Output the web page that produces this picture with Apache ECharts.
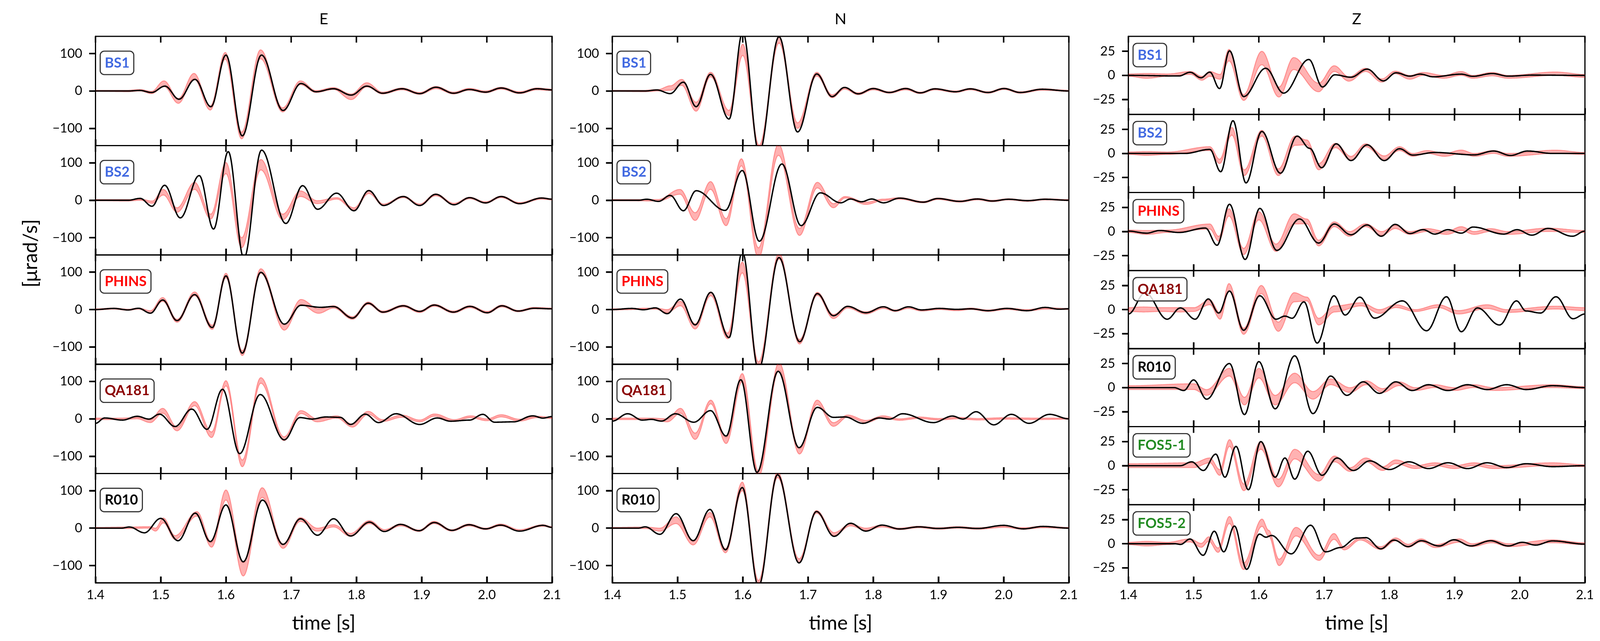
<!DOCTYPE html>
<html>
<head>
<meta charset="utf-8">
<script src="https://cdn.jsdelivr.net/npm/echarts@6/dist/echarts.min.js"></script>
<style>
html,body{margin:0;padding:0;background:#ffffff;overflow:hidden;}
#chart{width:100vw;height:100vh;}
</style>
</head>
<body>
<div id="chart"></div>
<script>
// ---------------- data (time [s], value [µrad/s]) ----------------
const timeTicks = [1.4, 1.5, 1.6, 1.7, 1.8, 1.9, 2.0, 2.1];
const ticksEN = [-100, 0, 100];
const ticksZ = [-25, 0, 25];
const components = ['E', 'N', 'Z'];
const stationsEN = ['BS1', 'BS2', 'PHINS', 'QA181', 'R010'];
const stationsZ = ['BS1', 'BS2', 'PHINS', 'QA181', 'R010', 'FOS5-1', 'FOS5-2'];

// black = observed trace [t, v]; red = synthetic band [t, low, high]
const E_BS1_black = [[1.40,0],[1.45,0],[1.468,1.5],[1.486,-4],[1.5065,13],[1.528,-22],[1.5525,31],[1.577,-42],[1.600,96],[1.625,-120],[1.6545,96],[1.6875,-52],[1.715,20],[1.738,-2],[1.765,6],[1.792,-11],[1.816,13],[1.840,-6],[1.870,6],[1.897,-7],[1.922,10],[1.949,-6],[1.973,4],[1.998,-3],[2.022,8],[2.050,-5],[2.077,6],[2.100,3]];
const E_BS1_red = [[1.40,-1,2],[1.45,-2,2],[1.468,0,4],[1.486,-7,-1],[1.505,12,27],[1.527,-33,-20],[1.551,32,47],[1.576,-51,-40],[1.599,85,103],[1.624,-128,-110],[1.653,86,110],[1.687,-56,-45],[1.714,17,27],[1.738,-4,1],[1.765,4,9],[1.792,-23,-8],[1.816,11,22],[1.840,-8,-3],[1.870,3,8],[1.897,-9,-4],[1.922,6,12],[1.949,-8,-3],[1.973,2,7],[1.998,-5,0],[2.022,5,10],[2.050,-7,-2],[2.077,3,8],[2.100,1,5]];

const E_BS2_black = [[1.40,0],[1.45,0],[1.4685,5],[1.4866,-16],[1.506,40],[1.530,-47],[1.559,66],[1.581,-77],[1.6035,130],[1.6275,-155],[1.6546,134],[1.6918,-62],[1.7175,39],[1.7405,-24],[1.7697,19],[1.7963,-28],[1.819,26],[1.8414,-14],[1.872,10],[1.897,-14],[1.9216,16],[1.9496,-12],[1.9735,7],[1.998,-7],[2.022,10],[2.050,-9],[2.084,6],[2.100,3]];
const E_BS2_red = [[1.40,-1,2],[1.45,-2,2],[1.469,0,3],[1.487,-8,-2],[1.504,14,29],[1.525,-32,-20],[1.552,29,48],[1.5767,-50,-37],[1.600,71,101],[1.624,-127,-100],[1.6535,81,109],[1.687,-52,-37],[1.714,10,25],[1.740,-9,-1],[1.770,3,7],[1.7963,-26,-20],[1.819,18,25],[1.8414,-14,-10],[1.872,7,11],[1.897,-14,-10],[1.9216,12,17],[1.9496,-12,-8],[1.9735,4,8],[1.998,-8,-4],[2.022,7,11],[2.050,-10,-6],[2.084,3,7],[2.100,1,4]];

const E_PHINS_black = [[1.40,0],[1.428,3],[1.450,-1],[1.466,3.4],[1.4843,-9.7],[1.503,25.6],[1.525,-29.5],[1.552,40],[1.579,-48],[1.600,90],[1.625,-116.5],[1.6534,99.4],[1.6895,-39],[1.715,11.4],[1.745,6],[1.765,8],[1.794,-22.7],[1.818,17],[1.8405,-6.8],[1.872,10],[1.897,-5],[1.9194,12],[1.9487,-6.8],[1.974,8.5],[2.0006,-8.5],[2.023,10],[2.048,-4],[2.0727,3.4],[2.100,2]];
const E_PHINS_red = [[1.40,-1,2],[1.428,1,4],[1.450,-2,1],[1.466,1,4],[1.4843,-9,-3],[1.503,22,32],[1.525,-34,-26],[1.552,37,47],[1.579,-53,-42],[1.600,85,97],[1.625,-123,-110],[1.6534,97,109],[1.6895,-55,-40],[1.715,13,27],[1.742,-10,2],[1.765,4,10],[1.794,-26,-19],[1.818,14,20],[1.8405,-9,-4],[1.872,7,12],[1.897,-8,-3],[1.9194,9,14],[1.9487,-9,-4],[1.974,5,10],[2.0006,-10,-5],[2.023,7,12],[2.048,-6,-2],[2.0727,2,6],[2.100,1,4]];

const E_QA181_black = [[1.40,-12],[1.414,2.3],[1.4415,-3.4],[1.464,6.8],[1.482,-0.6],[1.498,12.5],[1.522,-20.5],[1.5475,26],[1.571,-28],[1.5948,79],[1.621,-93],[1.6525,65],[1.6894,-56],[1.7134,3.4],[1.732,-0.6],[1.7527,5],[1.775,4],[1.791,-15],[1.8136,12.5],[1.834,-10],[1.8608,13.6],[1.897,-15],[1.924,2.3],[1.944,-6.3],[1.9735,-3.4],[1.9938,12],[2.0118,-9],[2.041,-8],[2.0704,8],[2.086,2],[2.100,6]];
const E_QA181_red = [[1.40,-2,2],[1.44,-2,2],[1.464,0,4],[1.484,-10,-2],[1.503,15,28],[1.525,-32,-22],[1.552,35,46],[1.578,-50,-35],[1.600,88,102],[1.625,-128,-110],[1.6534,95,110],[1.689,-58,-48],[1.715,14,22],[1.740,-8,0],[1.770,2,8],[1.794,-22,-14],[1.818,12,20],[1.840,-7,-2],[1.870,4,10],[1.897,-8,-3],[1.920,7,13],[1.950,-7,-2],[1.975,3,8],[2.000,-5,0],[2.022,5,11],[2.050,-6,-1],[2.077,3,7],[2.100,1,4]];

const E_R010_black = [[1.40,0],[1.44,0],[1.452,3],[1.475,-12.5],[1.500,26],[1.5265,-33.6],[1.553,40],[1.576,-36],[1.600,62],[1.6265,-90],[1.656,75],[1.6875,-43.4],[1.7143,25],[1.7404,-19],[1.765,25],[1.791,-21],[1.820,16],[1.8427,-9],[1.8675,10],[1.896,-7],[1.9194,15],[1.9465,-6],[1.9726,9],[1.998,-2],[2.021,8],[2.050,-8],[2.086,7.4],[2.100,2]];
const E_R010_red = [[1.40,-1,2],[1.45,-1,3],[1.4825,0,4],[1.492,-8,0],[1.504,14,27],[1.522,-30,-20],[1.5555,32,44],[1.578,-51,-38],[1.600,75,102],[1.6265,-128,-92],[1.6555,82,108],[1.6875,-54,-42],[1.714,18,28],[1.740,-8,0],[1.765,3,9],[1.791,-22,-14],[1.820,12,20],[1.843,-9,-4],[1.868,6,11],[1.896,-9,-5],[1.919,12,18],[1.946,-8,-4],[1.9726,6,11],[1.998,-4,0],[2.021,6,11],[2.050,-8,-4],[2.086,5,9],[2.100,1,4]];

const N_BS1_black = [[1.40,0],[1.45,0],[1.4685,2.7],[1.4888,-7],[1.509,23.6],[1.5285,-42],[1.5506,44.5],[1.579,-75],[1.600,158],[1.625,-165],[1.6556,145],[1.684,-109.5],[1.7134,45.6],[1.737,-15],[1.756,9.5],[1.777,-7.6],[1.800,6.5],[1.8247,-4],[1.850,6.5],[1.872,-5],[1.8946,5.7],[1.926,-2],[1.949,5.7],[1.976,-4],[2.0006,6.5],[2.0253,-4],[2.059,4.6],[2.100,0]];
const N_BS1_red = [[1.40,-1,2],[1.45,-2,2],[1.47,0,4],[1.489,2,14],[1.5065,15,31],[1.5285,-54,-30],[1.5506,38,50],[1.579,-66,-52],[1.600,95,125],[1.625,-160,-145],[1.6556,128,146],[1.684,-100,-85],[1.7134,40,50],[1.737,-18,-10],[1.756,5,10],[1.777,-10,-5],[1.800,3,8],[1.8247,-6,-2],[1.850,3,8],[1.872,-7,-3],[1.8946,3,7],[1.926,-4,0],[1.949,3,7],[1.976,-6,-2],[2.0006,4,8],[2.0253,-6,-2],[2.059,2,6],[2.100,-1,2]];

const N_BS2_black = [[1.40,0],[1.44,0],[1.4528,2.7],[1.4708,-3],[1.4888,13],[1.509,-28],[1.5285,25.5],[1.5731,-27],[1.5993,79.5],[1.6254,-109.5],[1.660,97],[1.6894,-67.7],[1.7188,19.8],[1.7503,-6.8],[1.7652,3.4],[1.782,-4],[1.7977,3.4],[1.8157,-6.8],[1.8405,5.7],[1.8766,-5],[1.8991,4.6],[1.9329,-3],[1.960,3.4],[1.9825,-2],[2.0073,2.7],[2.0366,-1],[2.0637,2.7],[2.100,0]];
const N_BS2_red = [[1.40,-1,2],[1.47,-2,2],[1.5037,16,29],[1.527,-54,-33],[1.5506,29,50],[1.5745,-68,-49],[1.598,92,111],[1.624,-155,-127],[1.6547,120,150],[1.687,-94,-75],[1.7143,33,48],[1.739,-20,-9],[1.757,6,10],[1.789,-11,-5],[1.815,-1,3],[1.8405,3,7],[1.8766,-7,-3],[1.8991,2,6],[1.9329,-5,-1],[1.960,1,5],[1.9825,-4,0],[2.0073,1,4],[2.0366,-3,0],[2.0637,1,4],[2.100,-1,2]];

const N_PHINS_black = [[1.40,0],[1.430,3],[1.448,-0.5],[1.466,4.5],[1.4843,-11],[1.5046,28],[1.527,-41],[1.551,46],[1.579,-75],[1.5993,155],[1.6241,-160],[1.6556,139],[1.6872,-86],[1.7143,42.6],[1.739,-16.5],[1.7608,8.5],[1.7887,-8.5],[1.8157,7.4],[1.8337,-3],[1.854,7.4],[1.8743,-1],[1.9014,3],[1.928,0.5],[1.950,2],[1.976,-3],[2.005,3],[2.036,-3],[2.0637,5.7],[2.085,1],[2.100,2]];
const N_PHINS_red = [[1.40,-1,2],[1.466,1,4],[1.4843,-8,0],[1.5046,10,22],[1.527,-52,-38],[1.551,37,47],[1.577,-78,-63],[1.5993,98,127],[1.6241,-160,-140],[1.6556,135,150],[1.687,-92,-80],[1.7143,38,46],[1.739,-24,-13],[1.7608,4,9],[1.7887,-12,-6],[1.8157,3,8],[1.8337,-5,-1],[1.854,3,7],[1.8743,-4,0],[1.9014,0,4],[1.928,-3,1],[1.950,0,4],[1.976,-5,-1],[2.005,0,4],[2.036,-4,0],[2.0637,1,5],[2.100,0,3]];

const N_QA181_black = [[1.40,-6],[1.4235,13.6],[1.446,-3.4],[1.460,-1.5],[1.4753,-6],[1.4966,13.6],[1.525,-9],[1.5506,22],[1.5745,-46],[1.597,104.5],[1.6218,-143],[1.6543,127],[1.6863,-77],[1.7143,30.7],[1.739,4],[1.757,5],[1.7842,-12],[1.809,2.3],[1.825,-0.6],[1.845,13.6],[1.8923,-10],[1.9216,7.4],[1.9375,-0.6],[1.9577,19],[1.9848,-16],[2.0118,12],[2.0389,-12],[2.0704,12],[2.100,0]];
const N_QA181_red = [[1.40,-2,2],[1.46,-2,2],[1.4843,-8,0],[1.5046,15,28],[1.527,-55,-38],[1.551,40,50],[1.5745,-66,-50],[1.5993,100,121],[1.624,-155,-140],[1.6556,130,150],[1.687,-94,-80],[1.714,38,50],[1.739,-20,-10],[1.761,5,10],[1.789,-10,-4],[1.815,3,8],[1.840,-4,0],[1.870,1,5],[1.900,-3,1],[1.930,0,4],[1.960,-3,1],[2.000,-1,3],[2.050,-2,2],[2.100,-1,2]];

const N_R010_black = [[1.40,0],[1.44,0],[1.4505,3.4],[1.473,-16.5],[1.4978,38.6],[1.524,-33.5],[1.5497,50],[1.5736,-58],[1.5993,108.5],[1.6241,-155],[1.6534,142.6],[1.6863,-93],[1.713,44.3],[1.740,-22],[1.7652,13],[1.7887,-8],[1.8134,8],[1.8405,-2.3],[1.870,3.4],[1.900,-1],[1.930,2],[1.960,-1],[2.000,7.4],[2.030,-2],[2.060,4.5],[2.100,0]];
const N_R010_red = [[1.40,-1,2],[1.45,-1,3],[1.473,-8,0],[1.4978,12,30],[1.524,-45,-35],[1.5497,30,42],[1.5736,-66,-55],[1.5993,100,123],[1.6241,-158,-140],[1.6534,135,150],[1.6863,-92,-82],[1.713,40,47],[1.740,-20,-12],[1.7652,6,11],[1.7887,-6,0],[1.8134,3,8],[1.8405,-4,0],[1.870,1,5],[1.900,-3,1],[1.930,0,4],[1.960,-3,1],[2.000,2,6],[2.030,-3,1],[2.060,1,5],[2.100,-1,2]];

const Z_BS1_black = [[1.40,0],[1.4775,-0.6],[1.4947,3.2],[1.5114,-2.5],[1.5249,3.4],[1.5398,-13.7],[1.555,25.5],[1.5767,-22],[1.6105,7.4],[1.638,-18.4],[1.6767,16.5],[1.6976,-12],[1.7165,0.6],[1.7413,-1.9],[1.7661,6.5],[1.791,-5.7],[1.8103,2.7],[1.8315,-0.8],[1.8473,1.3],[1.8675,-1.5],[1.9104,1.3],[1.928,-1],[1.9577,1.9],[1.9825,-0.8],[2.02,0.3],[2.100,0]];
const Z_BS1_red = [[1.40,-1,1.5],[1.428,-3,2],[1.460,-1,1.5],[1.4956,1,4],[1.5127,-5,-1],[1.525,-1,4],[1.5407,-4,1],[1.5542,15,27],[1.5767,-26,-20],[1.6046,11,25],[1.6308,-22.5,-12],[1.6534,6,18.5],[1.6917,-17,-8],[1.7156,4,10],[1.7381,-6,-1.5],[1.7638,4,7.4],[1.7886,-7,-3.6],[1.809,1.7,4.4],[1.8315,-4,0],[1.8518,0,3],[1.8833,-3,0],[1.9104,0,4],[1.928,-3,0],[1.9577,-0.5,3],[1.9825,-3,0],[2.0547,0,3.5],[2.100,-2,1]];

const Z_BS2_black = [[1.40,0],[1.4866,0],[1.5249,4.2],[1.5416,-19],[1.5604,34],[1.5803,-30.6],[1.6046,22.8],[1.6331,-20.5],[1.6587,18],[1.678,5.3],[1.6962,-14.8],[1.7187,10],[1.7413,-7.4],[1.7661,8.9],[1.7923,-7.4],[1.8157,4.9],[1.836,-1.7],[1.870,1],[1.930,-1.5],[1.960,2.5],[1.986,-2.1],[2.012,2.5],[2.050,0],[2.100,0]];
const Z_BS2_red = [[1.40,-1,1.5],[1.428,-2,2],[1.460,-1,1.5],[1.5249,3,7],[1.5398,-10.5,-6],[1.5587,19,27],[1.5776,-23,-17],[1.6046,18,24],[1.6299,-23,-16],[1.6556,8.4,18],[1.6736,9,14],[1.6917,-17,-10.5],[1.7174,6,10.5],[1.7413,-7,-3],[1.7638,7,10],[1.7923,-6,-2.5],[1.8157,3,7],[1.836,-3,0],[1.858,0,3],[1.885,-3,0],[1.9104,0,3.5],[1.930,-3,0],[1.960,0,3],[1.982,-3,0],[2.0547,0,3.4],[2.100,-1,1]];

const Z_PHINS_black = [[1.40,0.4],[1.428,-1.7],[1.448,1],[1.4775,-1],[1.5181,3.6],[1.536,-14.3],[1.555,28.3],[1.579,-29],[1.6015,24],[1.6276,-19.6],[1.6624,13],[1.6917,-12],[1.7156,7.8],[1.7413,-3.4],[1.7661,6.8],[1.7877,-4.9],[1.809,7.4],[1.8315,-2.1],[1.8518,1.9],[1.8698,-2.7],[1.890,1.9],[1.9104,-1.7],[1.9284,4.6],[1.9757,-2.7],[1.996,1.9],[2.0186,-3.8],[2.0434,3.2],[2.0808,-4.9],[2.100,0.4]];
const Z_PHINS_red = [[1.40,-1,1.5],[1.428,-3,1],[1.460,-1,1.5],[1.5249,2.5,7.8],[1.5384,-10,-5],[1.5542,16,23.6],[1.5767,-24,-17.5],[1.600,12,20.5],[1.6263,-20.7,-13],[1.6543,7.8,18.4],[1.6736,8,13],[1.6917,-15,-9],[1.7156,5,10],[1.7390,-5,0],[1.7638,5,8],[1.7886,-4,0],[1.809,3,6.5],[1.8315,-3,0],[1.858,0,3],[1.888,-3,0],[1.9104,1,5],[1.930,-3,0],[1.955,0,3],[1.982,-3,0],[2.0434,0,3.5],[2.100,-1,1]];

const Z_QA181_black = [[1.40,-4.6],[1.4257,17.5],[1.4595,-10],[1.4798,1.7],[1.5023,-10],[1.5226,11],[1.5384,-3.6],[1.555,19.2],[1.5767,-21.5],[1.6015,14.3],[1.6263,-10],[1.640,-6.8],[1.6511,-9],[1.6692,8],[1.6894,-34.8],[1.7152,14.3],[1.7323,-5.7],[1.7548,12.9],[1.7774,-8.9],[1.8202,9],[1.8572,-22],[1.8878,13.3],[1.9104,-23],[1.9352,1.7],[1.969,-16],[1.9951,9],[2.0096,-1.5],[2.032,-3.6],[2.0556,13.3],[2.0817,-9.5],[2.100,-4.6]];
const Z_QA181_red = [[1.40,-2,2],[1.4234,-2.5,2.7],[1.450,-2,2],[1.480,-2.5,2],[1.500,-2,2],[1.5249,5,10],[1.5407,-10,-3.6],[1.5542,19.6,27],[1.5767,-25.7,-19.4],[1.6038,16.5,25],[1.6299,-22.6,-13],[1.6543,8,17.5],[1.6736,9,13],[1.6917,-16,-9],[1.7165,-2.5,3.8],[1.757,3.8,7],[1.785,-4,0],[1.810,2,5],[1.840,-2,0],[1.875,2,5],[1.906,-4.6,-1],[1.950,1,5],[1.980,-3,0],[2.0556,0.5,3.5],[2.100,-1,2]];

const Z_R010_black = [[1.40,0],[1.47,0],[1.485,-3],[1.50,8],[1.52,-12],[1.555,25],[1.578,-28],[1.60,27],[1.625,-22],[1.655,33],[1.683,-27],[1.71,12],[1.735,-8],[1.76,6],[1.785,-6],[1.81,6],[1.835,-3],[1.86,3],[1.89,-3],[1.92,3],[1.95,-2],[1.98,3],[2.01,-2],[2.05,2],[2.10,0]];
const Z_R010_red = [[1.40,-2,2],[1.50,-2,4],[1.52,-8,-2],[1.555,12,20],[1.578,-18,-10],[1.60,10,20],[1.625,-18,-8],[1.655,5,15],[1.683,-12,-4],[1.71,3,9],[1.74,-5,0],[1.765,3,7],[1.79,-5,-1],[1.815,2,6],[1.84,-3,0],[1.87,0,3],[1.90,-3,0],[1.93,0,3],[1.96,-3,0],[2.05,0,3],[2.10,-1,1]];

const Z_FOS51_black = [[1.40,0],[1.48,0],[1.497,4],[1.515,-5],[1.534,12],[1.548,-12],[1.565,20],[1.584,-25],[1.603,25],[1.625,-12],[1.64,8],[1.655,-14],[1.675,15],[1.697,-10],[1.72,8],[1.745,-5],[1.77,5],[1.80,-4],[1.83,4],[1.86,-3],[1.89,3],[1.92,-3],[1.95,3],[1.98,-2],[2.01,2],[2.05,-1],[2.10,0]];
const Z_FOS51_red = [[1.40,-2,2],[1.50,-2,3],[1.525,3,8],[1.54,-10,-4],[1.555,20,27],[1.577,-26,-19],[1.603,17,25],[1.63,-22,-14],[1.655,7,17],[1.692,-16,-9],[1.716,4,10],[1.74,-6,-2],[1.764,4,8],[1.79,-5,-1],[1.81,2,6],[1.84,-3,0],[1.87,0,3],[1.90,-3,0],[1.93,0,3],[1.96,-3,0],[2.05,0,3],[2.10,-1,1]];

const Z_FOS52_black = [[1.40,0],[1.4716,0],[1.480,-0.7],[1.4945,4.9],[1.5147,-12],[1.5318,13],[1.5462,-8.4],[1.5626,18.4],[1.5813,-26.6],[1.6009,10],[1.6109,6.8],[1.6195,8.6],[1.6497,-10.5],[1.6794,19.2],[1.7024,-8.4],[1.725,-4],[1.7498,5.9],[1.7644,6.3],[1.787,-5.3],[1.8073,3.8],[1.8288,-3],[1.849,3.1],[1.8762,-2.3],[1.8991,4.1],[1.9251,-2.3],[1.9553,3.1],[1.9825,-2.3],[2.004,1.5],[2.0242,-1.4],[2.0501,2.9],[2.100,-0.4]];
const Z_FOS52_red = [[1.40,-1,1.5],[1.4282,-2.3,2.5],[1.460,-1,1.5],[1.4945,1.8,5],[1.5118,-3.7,0.4],[1.5233,2.5,7.2],[1.5376,-9,-4.4],[1.555,21,28.3],[1.5765,-26.8,-20],[1.605,18,25.6],[1.615,8,14],[1.631,-22.7,-16],[1.657,8,17],[1.6923,-17.3,-11.9],[1.7153,4.5,10.6],[1.731,-6.4,-3.7],[1.7555,3.8,6.1],[1.787,-6,-3],[1.810,3,6],[1.8288,-3.7,-0.5],[1.849,2,5],[1.8705,-4,-1],[1.9074,1.5,5],[1.9272,-3,0],[1.957,1,4],[1.9825,-3,0],[2.050,1,4],[2.100,-1,1]];

// ---------------- styling / layout (designed on a 4356 x 1640 canvas) ----------------
const VW = window.innerWidth || 4356, VH = window.innerHeight || 1640;
const KX = VW / 4356, KY = VH / 1640, K = Math.min(KX, KY);
const X = v => v * KX, Y = v => v * KY, S = v => v * K;

const FONT = 'Lato, "DejaVu Sans", sans-serif';
const stationColor = {'BS1':'#4169e1','BS2':'#4169e1','PHINS':'#ff0000','QA181':'#8b0000','R010':'#000000','FOS5-1':'#228b22','FOS5-2':'#228b22'};
const COL_LEFT = [260, 1667, 3072];
const COL_W = 1243;
const TOP = 93, BOTTOM = 1491;
const LIM_EN = 146, LIM_Z = 40.5;
const TICK_LEN = 17, TICK_W = 4;

const panels = [
  {c:0, st:'BS1', black:E_BS1_black, red:E_BS1_red},
  {c:0, st:'BS2', black:E_BS2_black, red:E_BS2_red},
  {c:0, st:'PHINS', black:E_PHINS_black, red:E_PHINS_red},
  {c:0, st:'QA181', black:E_QA181_black, red:E_QA181_red},
  {c:0, st:'R010', black:E_R010_black, red:E_R010_red},
  {c:1, st:'BS1', black:N_BS1_black, red:N_BS1_red},
  {c:1, st:'BS2', black:N_BS2_black, red:N_BS2_red},
  {c:1, st:'PHINS', black:N_PHINS_black, red:N_PHINS_red},
  {c:1, st:'QA181', black:N_QA181_black, red:N_QA181_red},
  {c:1, st:'R010', black:N_R010_black, red:N_R010_red},
  {c:2, st:'BS1', black:Z_BS1_black, red:Z_BS1_red},
  {c:2, st:'BS2', black:Z_BS2_black, red:Z_BS2_red},
  {c:2, st:'PHINS', black:Z_PHINS_black, red:Z_PHINS_red},
  {c:2, st:'QA181', black:Z_QA181_black, red:Z_QA181_red},
  {c:2, st:'R010', black:Z_R010_black, red:Z_R010_red},
  {c:2, st:'FOS5-1', black:Z_FOS51_black, red:Z_FOS51_red},
  {c:2, st:'FOS5-2', black:Z_FOS52_black, red:Z_FOS52_red}
];

// smooth pixel-space interpolation (horizontal tangent at each sample: extrema-based trace)
function cosInterp(pts) {
  const out = [];
  for (let k = 0; k < pts.length - 1; k++) {
    const x0 = pts[k][0], y0 = pts[k][1], x1 = pts[k+1][0], y1 = pts[k+1][1];
    const n = Math.max(2, Math.ceil(Math.abs(x1 - x0) / 2));
    for (let s = 0; s < n; s++) {
      const u = s / n;
      out.push([x0 + (x1 - x0) * u, y0 + (y1 - y0) * (1 - Math.cos(Math.PI * u)) / 2]);
    }
  }
  out.push(pts[pts.length - 1]);
  return out;
}
function clipRect(params) {
  const cs = params.coordSys;
  return {type:'rect', shape:{x:cs.x, y:cs.y, width:cs.width, height:cs.height}};
}
function makeBand(red) {
  return function (params, api) {
    if (params.dataIndexInside !== 0) return null;
    const up = red.map(p => api.coord([p[0], p[2]]));
    const lo = red.map(p => api.coord([p[0], p[1]]));
    const U = cosInterp(up), L = cosInterp(lo);
    const poly = U.concat(L.slice().reverse());
    return {
      type:'group', clipPath: clipRect(params),
      children: [
        {type:'polygon', shape:{points:poly}, style:{fill:'rgba(255,0,0,0.30)', stroke:null}},
        {type:'polyline', shape:{points:U}, style:{fill:null, stroke:'rgba(255,40,40,0.40)', lineWidth:S(2.6)}},
        {type:'polyline', shape:{points:L}, style:{fill:null, stroke:'rgba(255,40,40,0.40)', lineWidth:S(2.6)}}
      ]
    };
  };
}
function makeTrace(black) {
  return function (params, api) {
    if (params.dataIndexInside !== 0) return null;
    const P = cosInterp(black.map(p => api.coord([p[0], p[1]])));
    return {
      type:'group', clipPath: clipRect(params),
      children: [{type:'polyline', shape:{points:P}, style:{fill:null, stroke:'#000000', lineWidth:S(3.8), lineJoin:'round'}}]
    };
  };
}
// tick marks as one path: x ticks inward at top & bottom of each panel, y ticks outward on the left
function makeTicks(yTickVals) {
  return function (params, api) {
    if (params.dataIndexInside !== 0) return null;
    const cs = params.coordSys, L = S(TICK_LEN);
    let d = '';
    timeTicks.forEach(t => {
      const x = api.coord([t, 0])[0].toFixed(2);
      d += 'M' + x + ' ' + cs.y.toFixed(2) + 'L' + x + ' ' + (cs.y + L).toFixed(2);
      d += 'M' + x + ' ' + (cs.y + cs.height - L).toFixed(2) + 'L' + x + ' ' + (cs.y + cs.height).toFixed(2);
    });
    yTickVals.forEach(v => {
      const y = api.coord([timeTicks[0], v])[1].toFixed(2);
      d += 'M' + (cs.x - L).toFixed(2) + ' ' + y + 'L' + cs.x.toFixed(2) + ' ' + y;
    });
    return {type:'path', shape:{pathData:d}, style:{fill:null, stroke:'#000000', lineWidth:S(TICK_W)}};
  };
}
const fmtNum = v => (v < 0 ? '\u2212' + Math.abs(v) : String(v));

const grids = [], xAxes = [], yAxes = [], series = [], titles = [], graphics = [];
const rowCounter = [0, 0, 0];
const nRows = [stationsEN.length, stationsEN.length, stationsZ.length];
const axTick = {show: true, inside: true, length: S(TICK_LEN), lineStyle: {color: '#000', width: S(TICK_W)}};

panels.forEach((p, i) => {
  const r = rowCounter[p.c]++;
  const h = (BOTTOM - TOP) / nRows[p.c];
  const top = TOP + r * h;
  const isZ = p.c === 2;
  const lim = isZ ? LIM_Z : LIM_EN;
  const yt = isZ ? ticksZ : ticksEN;
  const isLast = r === nRows[p.c] - 1;
  grids.push({left: X(COL_LEFT[p.c]), top: Y(top), width: X(COL_W), height: Y(h), show: true,
    borderColor: '#000', borderWidth: S(3.2), backgroundColor: 'transparent', containLabel: false});
  xAxes.push({gridIndex: i, type: 'value', min: 1.4, max: 2.1, interval: 0.1, position: 'bottom',
    axisLine: {show: true, onZero: false, lineStyle: {color: '#000', width: S(3.2)}}, splitLine: {show: false}, axisTick: axTick,
    axisLabel: {show: isLast, customValues: timeTicks, margin: S(16), fontSize: S(35), fontFamily: FONT, color: '#000',
      formatter: v => Number(v).toFixed(1)}});
  yAxes.push({gridIndex: i, type: 'value', min: -lim, max: lim, position: 'left',
    axisLine: {show: true, onZero: false, lineStyle: {color: '#000', width: S(3.2)}}, splitLine: {show: false},
    axisTick: {show: true, inside: false, length: S(TICK_LEN), lineStyle: {color: '#000', width: S(TICK_W)}, customValues: yt},
    axisLabel: {show: true, customValues: yt, margin: S(36), fontSize: S(35), fontFamily: FONT, color: '#000', formatter: fmtNum}});
  series.push({type: 'custom', name: components[p.c] + '-' + p.st + '-band', coordinateSystem: 'cartesian2d',
    xAxisIndex: i, yAxisIndex: i, data: p.red, encode: {x: 0, y: [1, 2]},
    renderItem: makeBand(p.red), silent: true, z: 2, clip: true});
  series.push({type: 'custom', name: components[p.c] + '-' + p.st + '-obs', coordinateSystem: 'cartesian2d',
    xAxisIndex: i, yAxisIndex: i, data: p.black, encode: {x: 0, y: 1},
    renderItem: makeTrace(p.black), silent: true, z: 3, clip: true});
  series.push({type: 'custom', name: components[p.c] + '-' + p.st + '-ticks', coordinateSystem: 'cartesian2d',
    xAxisIndex: i, yAxisIndex: i, data: timeTicks.map(t => [t, 0]), encode: {x: 0, y: 1},
    renderItem: makeTicks(yt), silent: true, z: 6, clip: false});
  titles.push({text: p.st, left: X(COL_LEFT[p.c] + 13), top: Y(top + 0.25 * h - 32),
    padding: [S(9), S(12), S(9), S(12)], backgroundColor: 'rgba(255,255,255,0.82)', borderColor: '#333333',
    borderWidth: S(3), borderRadius: S(11), z: 10,
    textStyle: {fontFamily: FONT, fontWeight: 'bold', fontSize: S(38), lineHeight: S(46), color: stationColor[p.st]}});
});

components.forEach((name, c) => {
  const cx = COL_LEFT[c] + COL_W / 2;
  graphics.push({type: 'text', x: X(cx), y: Y(49), z: 10,
    style: {text: name, fontSize: S(42), fontFamily: FONT, fill: '#000', align: 'center', verticalAlign: 'middle'}});
  graphics.push({type: 'text', x: X(cx), y: Y(1595), z: 10,
    style: {text: 'time [s]', fontSize: S(54), fontFamily: FONT, fill: '#000', align: 'center', verticalAlign: 'middle'}});
});
graphics.push({type: 'text', x: X(84), y: Y(648), rotation: Math.PI / 2, z: 10,
  style: {text: '[\u03bcrad/s]', fontSize: S(54), fontFamily: FONT, fill: '#000', align: 'center', verticalAlign: 'middle'}});

const chart = echarts.init(document.getElementById('chart'), null, {renderer: 'canvas', width: VW, height: VH});
chart.setOption({
  animation: false,
  backgroundColor: '#ffffff',
  textStyle: {fontFamily: FONT},
  title: titles,
  grid: grids,
  xAxis: xAxes,
  yAxis: yAxes,
  series: series,
  graphic: graphics
});
</script>
</body>
</html>
